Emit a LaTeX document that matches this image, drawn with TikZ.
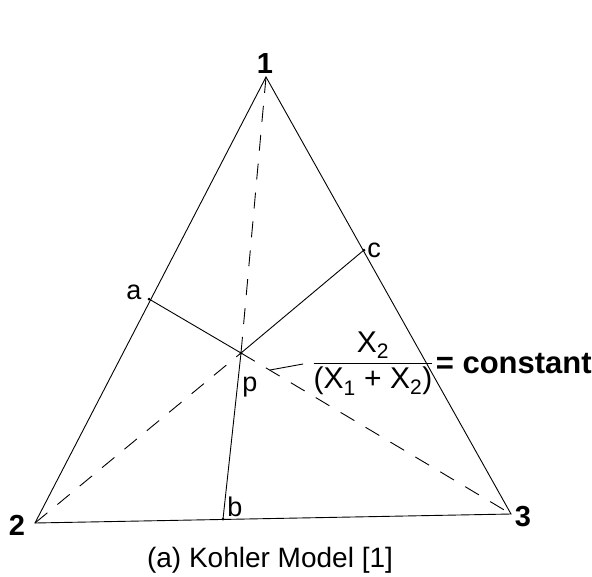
\documentclass[tikz,border=0pt]{standalone}
\usepackage{amsmath}
\usepackage{fontspec}
\setmainfont{Liberation Sans}
\begin{document}
\begin{tikzpicture}[x=1pt,y=-1pt,line width=0.9pt,
    num/.style={font=\bfseries\fontsize{29}{29}\selectfont,anchor=base},
    lbl/.style={font=\fontsize{27}{27}\selectfont,anchor=base},
    dsh/.style={dash pattern=on 16pt off 13pt}]
    \useasboundingbox (0,0) rectangle (592,576);
    \coordinate (v1) at (266,77); \coordinate (v2) at (35,523); \coordinate (v3) at (511,514);
    \coordinate (p) at (241,353); \coordinate (a) at (149,299);
    \coordinate (b) at (223,519); \coordinate (c) at (364,250);
    \coordinate (t) at (270,370);
    \draw (v1)--(v2)--(v3)--cycle;
    \draw (a)--(p)--(c) (p)--(b);
    \draw[dsh] (v1)--(p) (v2)--(p) (p)--(v3);
    \foreach \q in {a,b,c,p} \fill (\q) circle (1.5pt);
    % labels
    \node[num] (n1) at (265,73) {1};
    \node[num] (n2) at (17,535) {2};
    \node[num] (n3) at (523,526) {3};
    \node[lbl] (la) at (134,299) {a};
    \node[lbl] (lb) at (235,516) {b};
    \node[lbl] (lc) at (374,257) {c};
    \node[lbl] (lp) at (250,391) {p};
    \node[font=\fontsize{30}{32}\selectfont,inner sep=1pt] (frac) at (373,364)
      {$\dfrac{\text{X}_{\text{2}}}{\text{(X}_{\text{1}}\text{ + X}_{\text{2}}\text{)}}$};
    \node[font=\bfseries\fontsize{31}{31}\selectfont,anchor=west,inner sep=0.5pt] (cst) at (frac.east) {= constant};
    \draw ([xshift=-8pt]frac.west) -- (t);
    \node[font=\fontsize{28}{28}\selectfont,anchor=base] (cap) at (270,567) {(a) Kohler Model [1]};
\end{tikzpicture}
\end{document}
